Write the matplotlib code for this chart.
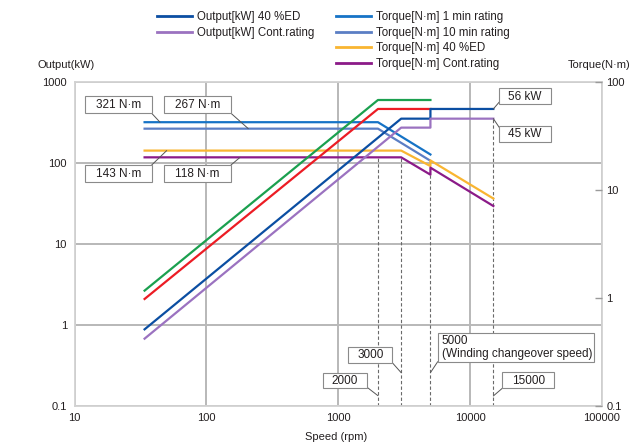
import matplotlib
matplotlib.use('Agg')
import matplotlib.pyplot as plt
from matplotlib.lines import Line2D
from matplotlib.patches import Rectangle

plt.rcParams['font.family'] = ['Liberation Sans', 'DejaVu Sans']
plt.rcParams['font.size'] = 8

# ---------------- data ----------------
speed_fast = [34, 2000, 5000]
out_1min = [2.65, 604, 604]
out_10min = [2.09, 468, 468]
speed_out = [34, 3000, 5000, 5000, 15000]
out_40ed = [0.88, 355, 355, 468, 468]
out_cont = [0.675, 275, 275, 355, 355]
speed_tq_fast = [34, 2000, 5000]
tq_1min = [321, 321, 128]
tq_10min = [267, 267, 107]
speed_tq = [34, 3000, 5000, 5000, 15000]
tq_40ed = [143, 143, 92, 108, 36.5]
tq_cont = [118, 118, 72, 88, 29.5]
marker_speeds = [2000, 3000, 5000, 15000]
marker_tops = [118, 118, 72, 355]
x_ticks = [10, 100, 1000, 10000, 100000]
x_ticklabels = ['10', '100', '1000', '10000', '100000']
y_ticks = [0.1, 1, 10, 100, 1000]
y_ticklabels = ['0.1', '1', '10', '100', '1000']
y2_ticks = [0.1, 1, 10, 100]
y2_ticklabels = ['0.1', '1', '10', '100']

legend_left = ['Output[kW] 40 %ED', 'Output[kW] Cont.rating']
legend_right = ['Torque[N·m] 1 min rating', 'Torque[N·m] 10 min rating',
                'Torque[N·m] 40 %ED', 'Torque[N·m] Cont.rating']

C_GREEN = '#1ba04f'
C_RED = '#ec1c24'
C_OUT40 = '#0b4ea2'
C_OUTC = '#9b72c0'
C_TQ1 = '#1673c6'
C_TQ10 = '#5b7ec4'
C_TQ40 = '#f9b531'
C_TQC = '#8b1a88'
TXT = '#231f20'

W, H = 635, 445
fig = plt.figure(figsize=(W / 100, H / 100), dpi=100)


def fp(px, py):
    return (px / W, 1 - py / H)


ax_l, ax_r, ax_t, ax_b = 74.5, 602, 82.3, 405.7
ax = fig.add_axes([ax_l / W, 1 - ax_b / H, (ax_r - ax_l) / W, (ax_b - ax_t) / H])
ax.set_xscale('log')
ax.set_yscale('log')
ax.set_xlim(10, 100000)
ax.set_ylim(0.1, 1000)
ax.set_xticks(x_ticks)
ax.set_xticklabels(x_ticklabels)
ax.set_yticks(y_ticks)
ax.set_yticklabels(y_ticklabels)
ax.minorticks_off()
ax.tick_params(axis='both', length=0, labelsize=8, colors=TXT)
ax.tick_params(axis='x', pad=5.5)
ax.tick_params(axis='y', pad=5.5)
ax.grid(True, color='#b8b8b8', lw=1.4)
ax.set_axisbelow(True)
for s in ax.spines.values():
    s.set_color('#d2d2d2')
    s.set_linewidth(1.3)

lw = 1.6
# dashed markers
for sp, top in zip(marker_speeds, marker_tops):
    ax.plot([sp, sp], [0.1, top], color='#6a6a6a', lw=0.8, ls=(0, (3, 2)), zorder=2)

ax.plot(speed_tq_fast, tq_1min, color=C_TQ1, lw=lw, zorder=3)
ax.plot(speed_tq_fast, tq_10min, color=C_TQ10, lw=lw, zorder=3)
ax.plot(speed_tq, tq_40ed, color=C_TQ40, lw=lw, zorder=3)
ax.plot(speed_tq, tq_cont, color=C_TQC, lw=lw, zorder=3)
ax.plot(speed_fast, out_1min, color=C_GREEN, lw=lw, zorder=3)
ax.plot(speed_fast, out_10min, color=C_RED, lw=lw, zorder=3)
ax.plot(speed_out, out_40ed, color=C_OUT40, lw=lw, zorder=3)
ax.plot(speed_out, out_cont, color=C_OUTC, lw=lw, zorder=3)

# right axis
ax2 = ax.twinx()
ax2.set_yscale('log')
ax2.set_ylim(0.1, 100)
ax2.set_yticks(y2_ticks)
ax2.set_yticklabels(y2_ticklabels)
ax2.minorticks_off()
ax2.tick_params(axis='y', direction='in', length=5, width=1, color='#9a9a9a',
                labelsize=8, labelcolor=TXT, pad=3)
for s in ax2.spines.values():
    s.set_visible(False)

# axis titles
fig.text(*fp(37, 65), 'Output(kW)', ha='left', va='center', fontsize=8, color=TXT)
fig.text(*fp(631, 65), 'Torque(N·m)', ha='right', va='center', fontsize=8, color=TXT)
fig.text(*fp(305, 437), 'Speed (rpm)', ha='left', va='center', fontsize=8, color=TXT)

# legends
hl = [Line2D([], [], color=c, lw=2) for c in (C_OUT40, C_OUTC)]
hr = [Line2D([], [], color=c, lw=2) for c in (C_TQ1, C_TQ10, C_TQ40, C_TQC)]
common = dict(frameon=False, loc='upper left', fontsize=8.3, handlelength=3.0,
              handletextpad=0.5, labelspacing=0.33, borderpad=0, borderaxespad=0,
              labelcolor=TXT)
fig.legend(hl, legend_left, bbox_to_anchor=fp(157, 10.8), **common)
fig.legend(hr, legend_right, bbox_to_anchor=fp(336, 10.8), **common)

# annotation boxes
def box(text, x0, y0, x1, y1, corner, target, ha='center', tx=None):
    r = Rectangle(fp(x0, y1), (x1 - x0) / W, (y1 - y0) / H, transform=fig.transFigure,
                  facecolor='white', edgecolor='#8a8a8a', lw=0.8, zorder=5)
    fig.add_artist(r)
    if ha == 'center':
        fig.text(*fp((x0 + x1) / 2, (y0 + y1) / 2 + 0.5), text, ha='center', va='center',
                 fontsize=8.5, color=TXT, zorder=6)
    else:
        fig.text(*fp(tx, (y0 + y1) / 2 + 0.5), text, ha='left', va='center',
                 fontsize=8.5, color=TXT, zorder=6, linespacing=1.15)
    ax.annotate('', xy=target, xycoords='data', xytext=fp(*corner),
                textcoords='figure fraction',
                arrowprops=dict(arrowstyle='-', lw=0.7, color='#555555',
                                shrinkA=0, shrinkB=0), zorder=4)


box('321 N·m', 85, 96, 151.7, 113.3, (151.7, 113.3), (44.5, tq_1min[0]))
box('267 N·m', 164.3, 96, 231, 113.3, (231, 113.3), (208, tq_10min[0]))
box('143 N·m', 85, 165, 151.7, 181.7, (151.7, 165), (50, tq_40ed[0]))
box('118 N·m', 164.3, 165, 231, 181.7, (231, 165), (180, tq_cont[0]))
box('56 kW', 499.3, 88.3, 550.7, 104.3, (499.3, 102), (speed_out[-1], out_40ed[-1]))
box('45 kW', 499.3, 126, 550.7, 141.5, (499.3, 127.5), (speed_out[-1], out_cont[-1]))
box('2000', 323.3, 373.3, 366.7, 388.3, (366.7, 387), (marker_speeds[0], 0.133))
box('3000', 348.3, 346.7, 392.3, 362.7, (392.3, 362.7), (marker_speeds[1], 0.256))
box('5000\n(Winding changeover speed)', 437.7, 332.7, 594, 361.7, (437.7, 361.7),
    (marker_speeds[2], 0.256), ha='left', tx=441.5)
box('15000', 502.3, 371.7, 554, 388.3, (502.3, 388.3), (marker_speeds[3], 0.132))

fig.savefig('out.png', dpi=100)
